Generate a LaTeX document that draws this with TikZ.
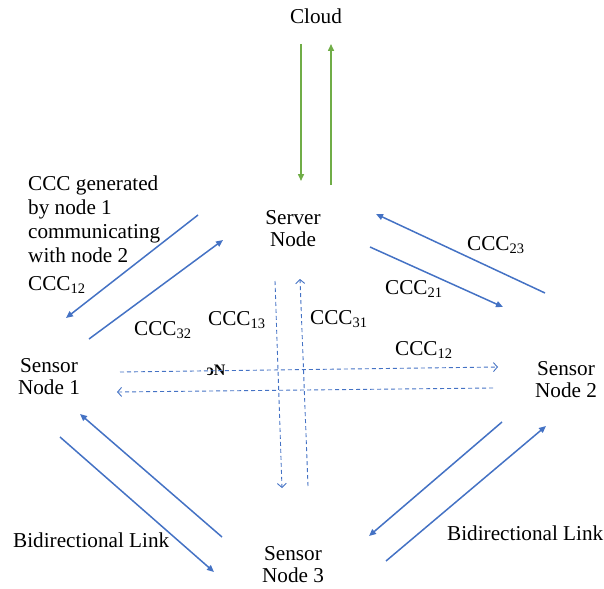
\documentclass[tikz,border=0pt]{standalone}
\usepackage{fontspec}
\setmainfont{Liberation Serif}
\usetikzlibrary{arrows.meta}
\definecolor{lnblue}{HTML}{4472C4}
\definecolor{lngreen}{HTML}{70AD47}
\newcommand\lowsub[1]{\raisebox{-0.4ex}{\fontsize{14.5}{14.5}\selectfont #1}}
\tikzset{
  lbl/.style={inner sep=0pt, font=\fontsize{21.2}{22}\selectfont, align=center},
  solidarrow/.style={draw=lnblue, line width=1.5pt, -{Triangle[length=7pt,width=6pt]}},
  cloudarrow/.style={draw=lngreen, line width=1.5pt, -{Triangle[length=7pt,width=6pt]}},
  dasharrow/.style={draw=lnblue, line width=0.9pt, dash pattern=on 4pt off 3pt, -{Straight Barb[length=4pt,width=9pt]}},
  dashline/.style={draw=lnblue, line width=0.9pt, dash pattern=on 4pt off 3pt}
}
\begin{document}
\begin{tikzpicture}[x=1pt,y=-1pt]
\useasboundingbox (0,0) rectangle (604,588);
% nodes
\node[lbl] (cloud) at (316,16) {Cloud};
\node[lbl, anchor=north] (server) at (293,210) {Server\\Node};
\node[lbl, anchor=north] (s1) at (49,358) {Sensor\\Node 1};
\node[lbl, anchor=north] (s2) at (566,361) {Sensor\\Node 2};
\node[lbl, anchor=north] (s3) at (293,546) {Sensor\\Node 3};
\node[lbl, anchor=north west, align=left, font=\fontsize{21.2}{24}\selectfont] (note) at (28,176)
  {CCC generated\\by node 1\\communicating\\with node 2};
% labels
\node[lbl, anchor=base west] (l12a) at (28,290) {CCC\lowsub{12}};
\node[lbl, anchor=base west] (l32) at (134,335) {CCC\lowsub{32}};
\node[lbl, anchor=base west] (l13) at (208,325) {CCC\lowsub{13}};
\node[lbl, anchor=base west] (l31) at (310,324) {CCC\lowsub{31}};
\node[lbl, anchor=base west] (l23) at (467,250) {CCC\lowsub{23}};
\node[lbl, anchor=base west] (l21) at (385,294) {CCC\lowsub{21}};
\node[lbl, anchor=base west] (l12b) at (395,355) {CCC\lowsub{12}};
\node[lbl, anchor=base west] (bl1) at (13,547) {Bidirectional Link};
\node[lbl, anchor=base west] (bl2) at (447,540) {Bidirectional Link};
\node[inner sep=0pt, font=\fontsize{16}{16}\selectfont\bfseries] (garb) at (216,370) {\reflectbox{c}N};
% coordinates
\coordinate (g1s) at (301,44);  \coordinate (g1e) at (301,181);
\coordinate (g2s) at (331,185); \coordinate (g2e) at (331,44);
\coordinate (a1s) at (198,215); \coordinate (a1e) at (66,318);
\coordinate (a2s) at (89,339);  \coordinate (a2e) at (223,240);
\coordinate (a3s) at (545,293); \coordinate (a3e) at (376,214);
\coordinate (a4s) at (370,247); \coordinate (a4e) at (503,307);
\coordinate (a5s) at (222,537); \coordinate (a5e) at (80,414);
\coordinate (a6s) at (60,437);  \coordinate (a6e) at (214,572);
\coordinate (a7s) at (502,422); \coordinate (a7e) at (369,536);
\coordinate (a8s) at (386,561); \coordinate (a8e) at (546,426);
\coordinate (h1s) at (120,372); \coordinate (h1e) at (498,367);
\coordinate (h2s) at (493,388); \coordinate (h2e) at (117,392);
\coordinate (v1s) at (275,281); \coordinate (v1e) at (282,488);
\coordinate (v2s) at (308,486); \coordinate (v2e) at (300,279);
% arrows
\draw[cloudarrow] (g1s) -- (g1e);
\draw[cloudarrow] (g2s) -- (g2e);
\draw[solidarrow] (a1s) -- (a1e);
\draw[solidarrow] (a2s) -- (a2e);
\draw[solidarrow] (a3s) -- (a3e);
\draw[solidarrow] (a4s) -- (a4e);
\draw[solidarrow] (a5s) -- (a5e);
\draw[solidarrow] (a6s) -- (a6e);
\draw[solidarrow] (a7s) -- (a7e);
\draw[solidarrow] (a8s) -- (a8e);
\draw[dasharrow] (h1s) -- (h1e);
\draw[dasharrow] (h2s) -- (h2e);
\draw[dasharrow] (v1s) -- (v1e);
\draw[dasharrow] (v2s) -- (v2e);
\end{tikzpicture}
\end{document}
